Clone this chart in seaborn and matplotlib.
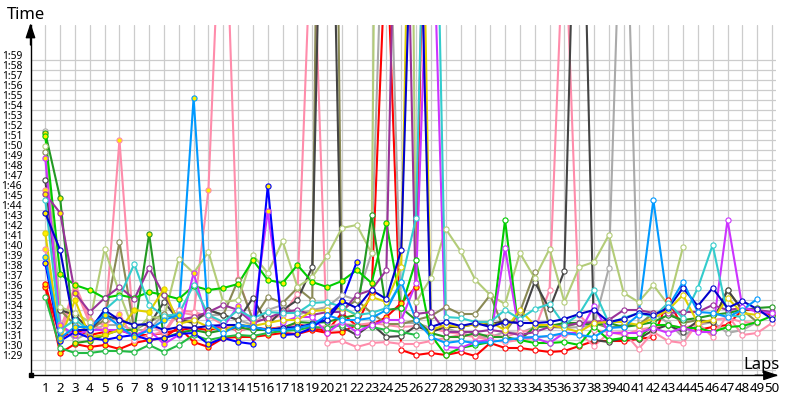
import numpy as np
import pandas as pd
import seaborn as sns
import matplotlib
matplotlib.use("Agg")
import matplotlib.pyplot as plt
from matplotlib.transforms import ScaledTranslation

nan = np.nan
laps = list(range(1, 51))

gray = [111.9, 92.6, 91.0, 91.8, 92.5, 92.5, 92.0, 92.0, 93.6, 93.0,
        93.2, 93.5, 93.5, 93.0, 92.5, 94.0, 94.5, 93.5, 94.0, 94.3,
        95.5, 95.0, 99.7, 145, 92.7, 92.7, 92.2, 92.2, 91.7, 91.3,
        91.3, 91.8, 91.7, 92.3, 92.3, 92.2, 92.3, 92.5, 98.2, 145,
        92.3, 93.7, 92.7, 91.3, 92.5, 92.8, 91.7, 92.0, 92.8, nan]
olive = [109.8, 94.0, 92.5, 92.0, 93.0, 100.8, 92.0, 92.8, 93.6, 93.0,
         92.8, 94.0, 93.5, 97.0, 93.0, 95.3, 94.7, 96.2, 95.0, 220,
         94.0, 95.0, 93.7, 92.6, 92.6, 93.0, 93.4, 94.3, 93.6, 93.6,
         95.5, 91.8, 93.8, 97.8, 92.3, 92.3, 92.7, 92.7, 92.2, 92.5,
         92.5, 93.7, 93.8, 92.7, 93.0, 92.8, 96.0, 94.0, 92.8, nan]
darkgray = [107.0, 94.0, 93.5, 92.0, 93.5, 93.0, 92.5, 92.5, 94.8, 93.0,
            92.7, 94.0, 93.5, 93.0, 95.2, 92.5, 94.0, 95.0, 98.3, 166,
            92.3, 91.5, 92.6, 91.3, 91.4, 92.4, 91.8, 92.3, 92.3, 92.6,
            92.6, 92.9, 92.7, 96.8, 94.1, 97.9, 155, 91.0, 90.8, 91.2,
            91.1, 92.0, 92.5, 91.8, 92.9, 92.8, 96.0, 94.0, nan, nan]
lightgreen = [110.4, 94.3, 93.7, 92.8, 100.1, 95.7, 91.8, 93.3, 93.2, 99.1,
              97.7, 99.8, 94.8, 95.0, 99.5, 97.7, 100.9, 96.3, 97.3, 99.4,
              102.2, 102.5, 99.7, 260, 260, 94.8, 97.2, 102.1, 99.9, 97.0,
              95.5, 94.6, 99.7, 97.2, 100.1, 94.8, 98.3, 98.8, 101.5, 95.7,
              94.8, 96.5, 94.5, 100.3, nan, nan, nan, nan, nan, nan]
pink_a = [100.1, 91.0, 96.6, 93.0, 92.5, 93.6, 91.0, 92.6, 91.6, 93.8,
          93.5, 106.0, 142, 97.1, 93.0, 93.0, 93.5, 95.6, 135, 90.7,
          90.9, 90.3, 90.7, 90.8, 90.6, 90.6, 90.9, 91.2, 91.5, 91.3,
          91.0, 90.8, 91.0, 91.2, 91.4, 91.5, 91.7, 90.4, 91.7, 91.8,
          90.1, 91.8, 90.9, 90.7, 92.7, 91.3, 93.5, 91.5, 91.7, 92.7]
pink_b = [106.0, 92.0, 96.3, 92.6, 92.0, 111.0, 91.0, 91.5, 91.8, 94.0,
          93.8, 93.4, 92.5, 92.0, 92.2, 92.0, 92.3, 92.5, 92.2, 92.4,
          92.6, 92.5, 92.7, 92.5, 92.3, 92.4, 92.2, 91.8, 91.6, 91.4,
          91.5, 91.3, 91.8, 92.0, 96.0, 134, 93.5, 92.0, 91.8, 91.5,
          92.0, 92.3, 92.5, 92.2, 92.6, 93.0, 93.2, 92.8, 92.7, nan]
purple = [105.6, 103.7, 95.7, 93.8, 95.2, 96.3, 95.1, 98.2, 95.5, 93.0,
          93.3, 93.8, 94.5, 94.0, 92.7, 93.2, 93.8, 94.0, 93.5, 93.8,
          93.8, 95.5, 96.0, 98.0, 166, 93.6, 93.8, 91.8, 91.8, 91.8,
          92.0, 91.8, 91.5, 91.8, 92.3, 92.4, 92.7, 92.8, 93.0, 94.0,
          94.0, 93.7, 93.7, 93.8, 93.8, 94.5, 94.0, 94.2, 94.0, 93.8]
violet = [109.2, 92.5, 91.5, 92.0, 92.0, 92.0, 91.5, 92.0, 90.6, 91.5,
          97.7, 92.5, 92.3, 94.4, 92.8, 103.9, 92.8, 93.3, 93.3, 91.7,
          92.8, 91.8, 92.5, 93.0, 93.0, 96.7, 141, 90.3, 90.2, 90.8,
          91.0, 100.2, 91.3, 91.2, 90.7, 91.7, 91.7, 94.4, 91.7, 91.7,
          91.7, 92.2, 91.7, 92.2, 91.8, 91.8, 103.0, 94.3, 93.8, 93.7]
gold = [101.7, 91.0, 95.0, 91.3, 91.5, 92.0, 94.0, 93.8, 96.1, 92.6,
        93.0, 92.3, 92.0, 92.5, 92.4, 92.7, 93.0, 93.0, 93.9, 94.0,
        94.2, 93.5, 95.3, 94.8, 98.3, 175, 92.0, 92.5, 92.3, 92.6,
        92.8, 92.0, 94.0, 92.5, 92.5, 92.2, 91.8, 92.7, 92.8, 92.8,
        92.5, 93.2, 94.0, 95.5, 92.7, 93.0, 95.2, 93.7, 93.5, nan]
teal = [105.0, 92.0, 93.0, 92.0, 94.0, 95.3, 98.6, 94.5, 93.4, 93.6,
        96.5, 93.5, 92.8, 94.0, 93.2, 93.8, 93.7, 93.7, 94.7, 94.8,
        94.3, 93.5, 93.7, 94.2, 96.8, 103.2, 165, 93.3, 93.2, 92.8,
        92.8, 94.0, 93.1, 94.1, 94.6, 92.5, 93.6, 96.0, 92.7, 93.2,
        93.7, 93.3, 94.7, 93.2, 96.2, 100.5, 93.5, 93.3, nan, nan]
lightblue = [99.3, 91.2, 92.3, 92.3, 93.5, 92.4, 91.3, 92.0, 93.0, 93.5,
             115.2, 92.7, 91.7, 92.5, 92.3, 92.0, 92.0, 92.2, 92.5, 93.5,
             93.0, 93.0, 93.2, 94.0, 96.8, 93.0, 91.3, 90.7, 90.9, 90.7,
             90.8, 91.0, 91.2, 91.3, 91.4, 91.7, 91.5, 91.3, 92.2, 92.3,
             93.5, 105.0, 94.3, 96.8, 93.8, 93.7, 93.3, 94.0, 95.1, nan]
green = [111.4, 97.6, 96.5, 96.0, 95.2, 95.5, 95.2, 95.8, 95.5, 95.1,
         96.4, 96.0, 96.2, 96.6, 99.0, 97.0, 96.7, 98.5, 96.8, 96.3,
         96.9, 98.0, 96.7, 102.7, 94.2, 99.0, 91.5, 89.5, 90.2, 90.5,
         90.8, 103.0, 91.0, 90.7, 90.7, 90.8, 90.5, 92.3, 91.0, 91.2,
         91.2, 92.5, 92.5, 92.2, 92.2, 91.8, 92.3, 92.4, 92.8, 93.4]
green_low = [95.3, 90.2, 89.7, 89.7, 89.9, 89.9, 89.8, 90.5, 89.8, 90.5,
             91.5, 91.0, 91.3, 91.5, 91.4, 91.7, 91.9, 92.0, 92.3, 92.2,
             92.5, 92.4, 92.3, 92.0, 91.8, 91.5, nan, nan, nan, nan,
             nan, nan, nan, nan, nan, nan, nan, nan, nan, nan,
             nan, nan, nan, nan, nan, nan, nan, nan, nan, nan]
dkgreen = [111.7, 105.2, 90.7, 90.9, 91.5, 92.0, 92.0, 101.6, 91.2, 91.7,
           92.0, 91.7, 92.0, 92.3, 92.0, 92.0, 92.2, 92.8, 92.7, 92.8,
           93.2, 93.5, 103.5, 94.0, 94.2, 93.0, 91.7, 91.3, 91.3, 91.7,
           91.3, 91.3, 91.0, 92.3, 92.4, 92.7, 92.7, 92.5, 92.7, 92.3,
           92.5, 92.8, 93.5, 93.0, 93.2, 93.5, 93.7, 94.0, 94.2, 94.3]
darkblue = [103.7, 100.0, 92.0, 92.0, 94.0, 93.0, 92.5, 92.6, 92.0, 92.3,
            92.2, 92.4, 92.5, 92.5, 92.3, 92.0, 92.2, 92.3, 92.6, 93.0,
            94.9, 94.2, 96.0, 95.1, 100.0, 150, 92.3, 92.8, 92.4, 92.7,
            92.3, 92.8, 92.7, 92.7, 92.8, 93.1, 93.6, 94.0, 92.8, 93.1,
            93.7, 93.5, 94.2, 96.2, 94.4, 96.2, 94.2, 94.9, 94.1, 93.1]
blue = [98.7, 90.9, 91.8, 91.2, 91.0, 91.3, 91.5, 91.0, 91.2, 91.6,
        91.7, 90.6, 91.2, 90.8, 90.6, 106.4, 91.5, 91.6, 92.2, 93.5,
        94.9, 98.8, nan, nan, nan, nan, nan, nan, nan, nan,
        nan, nan, nan, nan, nan, nan, nan, nan, nan, nan,
        nan, nan, nan, nan, nan, nan, nan, nan, nan, nan]
red_b = [96.6, 91.2, 92.0, 91.5, 91.8, 92.0, 91.5, 91.5, 91.7, 92.0,
         92.2, 92.0, 92.3, 92.0, 92.2, 92.1, 92.3, 92.6, 92.2, 91.9,
         93.7, 92.4, 92.5, 93.3, 94.7, 96.3, 175, nan, nan, nan,
         nan, nan, nan, nan, nan, nan, nan, nan, nan, nan,
         nan, nan, nan, nan, nan, nan, nan, nan, nan, nan]
red_a = [96.3, 89.7, 90.6, 90.3, 90.5, 90.1, 90.7, 91.0, 91.2, 92.3,
         90.8, 90.3, 91.2, 91.3, 91.3, 91.5, 91.7, 91.6, 92.0, 91.7,
         91.8, 92.5, 95.7, 132, 90.0, 89.5, 89.7, 89.5, 89.8, 89.4,
         90.7, 90.2, 90.2, 90.0, 89.8, 89.9, 90.4, 90.9, 90.9, 90.9,
         91.1, 91.3, 95.0, 92.2, 92.0, 92.3, 92.5, 94.0, 94.0, 93.5]

series = [
    ("red_a", red_a, "#ff0000", 23),
    ("red_b", red_b, "#ff0000", 26),
    ("gray", gray, "#aaaaaa", 0),
    ("pink_a", pink_a, "#ff8cab", 12),
    ("pink_b", pink_b, "#ff8cab", 6),
    ("olive", olive, "#8a8a55", 0),
    ("darkgray", darkgray, "#444444", 0),
    ("lightgreen", lightgreen, "#b3cc78", 0),
    ("green_low", green_low, "#22bb44", 0),
    ("dkgreen", dkgreen, "#229922", 8),
    ("green", green, "#00cc00", 24),
    ("purple", purple, "#993399", 3),
    ("violet", violet, "#cc33ff", 16),
    ("gold", gold, "#e0d000", 9),
    ("teal", teal, "#33cccc", 0),
    ("darkblue", darkblue, "#0000cc", 1),
    ("blue", blue, "#0000ff", 22),
    ("lightblue", lightblue, "#0099ff", 11),
]
y_ticks = list(range(88, 120))
y_labels = {s: f"1:{s - 60:02d}" for s in range(89, 120)}

sns.set_theme(style="white")
plt.rcParams["font.family"] = ["Noto Sans", "DejaVu Sans"]

fig = plt.figure(figsize=(8, 4), dpi=100, facecolor="white")
ax = fig.add_axes([30.5 / 800, 24.7 / 400, 745.2 / 800, 350.3 / 400])

for name, values, color, fill_until in series:
    df = pd.DataFrame({"lap": laps, "time": values}).dropna()
    sns.lineplot(data=df, x="lap", y="time", color=color, linewidth=1.5,
                 estimator=None, sort=False, ax=ax, legend=False, zorder=3)
    yellow = df[df["lap"] <= fill_until]
    white = df[df["lap"] > fill_until]
    for part, face in ((yellow, "#ffee00"), (white, "white")):
        if len(part):
            sns.scatterplot(data=part, x="lap", y="time", s=14, marker="o",
                            facecolor=face, edgecolor=color, linewidth=0.8,
                            ax=ax, legend=False, zorder=4)

ax.set_xlim(0.002, 50.25)
ax.set_ylim(87.47, 122.5)
ax.set_xticks(laps)
ax.set_xticklabels([str(v) for v in laps], fontsize=9.6, color="black")
ax.set_yticks(y_ticks)
ax.set_yticklabels([y_labels.get(s, "") for s in y_ticks], fontsize=7.4, color="black")
ax.tick_params(axis="both", length=0)
ax.tick_params(axis="y", pad=6)
ax.tick_params(axis="x", pad=5)
shift = ScaledTranslation(0, 5 / 100, fig.dpi_scale_trans)
for lab in ax.get_yticklabels():
    lab.set_transform(lab.get_transform() + shift)
ax.grid(True, color="#cccccc", linewidth=0.9)
ax.set_axisbelow(True)
ax.set_xlabel("")
ax.set_ylabel("")
for side in ("top", "right"):
    ax.spines[side].set_visible(False)
for side in ("left", "bottom"):
    ax.spines[side].set_color("black")
    ax.spines[side].set_linewidth(1.0)

arrow = dict(arrowstyle="-|>,head_length=0.9,head_width=0.3", color="black", lw=1,
             shrinkA=0, shrinkB=0, mutation_scale=10)
ax.annotate("", xy=(30.5 / 800, 1 - 23 / 400), xycoords="figure fraction",
            xytext=(30.5 / 800, 1 - 45 / 400), textcoords="figure fraction", arrowprops=arrow)
ax.annotate("", xy=(778.5 / 800, 24.7 / 400), xycoords="figure fraction",
            xytext=(755 / 800, 24.7 / 400), textcoords="figure fraction", arrowprops=arrow)
ax.plot([0.002], [87.47], marker="s", ms=3, color="black", clip_on=False, zorder=6)

fig.text(7 / 800, 1 - 15 / 400, "Time", fontsize=12, va="center", ha="left", color="black")
fig.text(743 / 800, 1 - 365 / 400, "Laps", fontsize=12, va="center", ha="left", color="black")

fig.savefig("out.png", dpi=100)
